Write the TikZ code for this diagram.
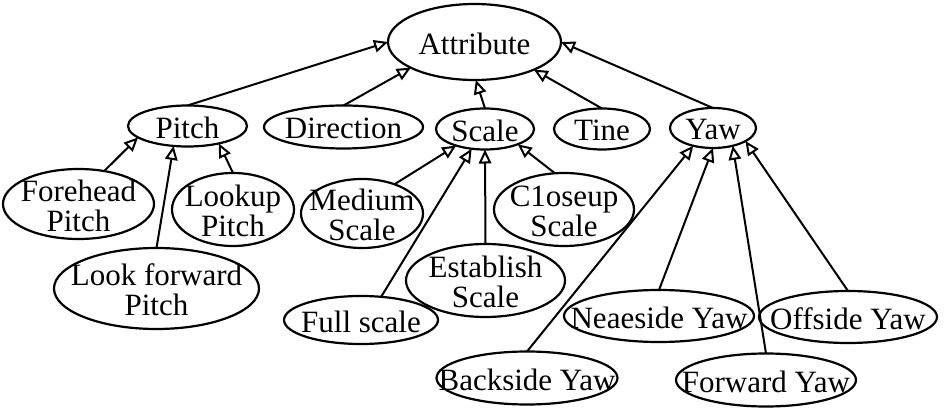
\documentclass[tikz,border=0pt]{standalone}
\usepackage{fontspec}
\setmainfont{Liberation Serif}
\usetikzlibrary{arrows.meta,shapes.geometric}
\begin{document}
\begin{tikzpicture}[x=1pt,y=-1pt,
  ell/.style 2 args={draw, ellipse, line width=2.2pt, minimum width=#1, minimum height=#2, inner sep=0pt, outer sep=0pt},
  lbl/.style={align=center, font=\fontsize{31}{30}\selectfont, inner sep=0pt, yshift=-1.5pt},
  arr/.style={line width=2pt, -{Triangle[open,length=14pt,width=12.5pt,line width=2pt]}}]
\useasboundingbox (0,0) rectangle (945,411);
% top
\node[ell={173pt}{76pt}, label={[lbl]center:Attribute}] (attr) at (474.5,42) {};
% second row
\node[ell={119pt}{41pt}, label={[lbl]center:Pitch}] (pitch) at (187.5,126) {};
\node[ell={159pt}{43pt}, label={[lbl]center:Direction}] (dir) at (343.5,127) {};
\node[ell={98pt}{41pt}, label={[lbl]center:Scale}] (scale) at (485,129) {};
\node[ell={96pt}{41pt}, label={[lbl]center:Tine}] (tine) at (602,129) {};
\node[ell={86pt}{40pt}, label={[lbl]center:Yaw}] (yaw) at (713,128) {};
% pitch children
\node[ell={151pt}{70pt}, label={[lbl]center:Forehead\\Pitch}] (fore) at (78.5,204) {};
\node[ell={122pt}{73pt}, label={[lbl]center:Lookup\\Pitch}] (look) at (233,209.5) {};
\node[ell={205pt}{81pt}, label={[lbl]center:Look forward\\Pitch}] (lfp) at (156.5,288.5) {};
% scale children
\node[ell={122pt}{69pt}, label={[lbl]center:Medium\\Scale}] (med) at (362,213.5) {};
\node[ell={140pt}{73pt}, label={[lbl]center:C1oseup\\Scale}] (close) at (564,209.5) {};
\node[ell={159pt}{73pt}, label={[lbl]center:Establish\\Scale}] (est) at (485.5,280.5) {};
\node[ell={154pt}{48pt}, label={[lbl]center:Full scale}] (full) at (361,320) {};
% yaw children
\node[ell={190pt}{52pt}, label={[lbl]center:Neaeside Yaw}] (near) at (659,316) {};
\node[ell={178pt}{52pt}, label={[lbl]center:Offside Yaw}] (off) at (848,317) {};
\node[ell={181pt}{53pt}, label={[lbl]center:Backside Yaw}] (back) at (527,378) {};
\node[ell={180pt}{53pt}, label={[lbl]center:Forward Yaw}] (fwd) at (766,380) {};
% edges to Attribute
\draw[arr] (pitch.north) -- (attr.180);
\draw[arr] (dir.north) -- (attr.202);
\draw[arr] (scale.north) -- (attr.272);
\draw[arr] (tine.north) -- (attr.335);
\draw[arr] (yaw.north) -- (attr.0);
% edges to Pitch
\draw[arr] (fore.52) -- (pitch.193);
\draw[arr] (lfp.north) -- (pitch.235);
\draw[arr] (look.north) -- (pitch.331);
% edges to Scale
\draw[arr] (med.42) -- (scale.210);
\draw[arr] (full.49) -- (scale.236);
\draw[arr] (est.north) -- (scale.south);
\draw[arr] (close.104) -- (scale.335);
% edges to Yaw
\draw[arr] (back.north) -- (yaw.222);
\draw[arr] (near.north) -- (yaw.south);
\draw[arr] (fwd.north) -- (yaw.318);
\draw[arr] (off.north) -- (yaw.338);
\end{tikzpicture}
\end{document}
